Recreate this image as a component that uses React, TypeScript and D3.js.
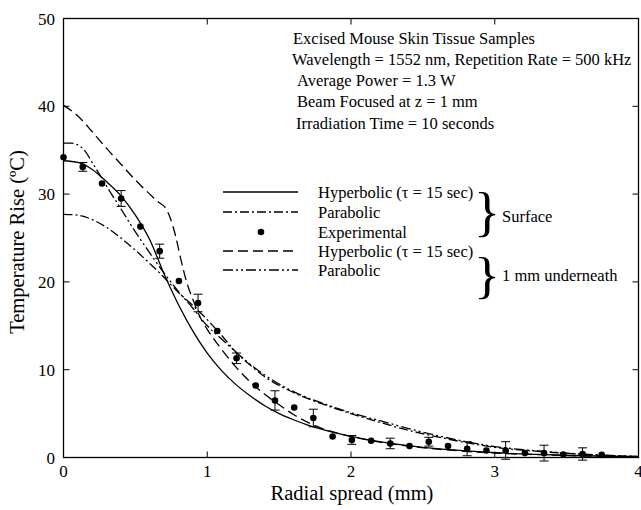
import React from "react";
import * as d3 from "d3";

// ---------- data ----------
const xTicks = [0, 1, 2, 3, 4];
const yTicks = [0, 10, 20, 30, 40, 50];

// Experimental points (surface)
const expR = [0, 0.134, 0.268, 0.401, 0.535, 0.669, 0.803, 0.936, 1.07, 1.204, 1.337, 1.471, 1.605, 1.738, 1.872, 2.006, 2.14, 2.273, 2.407, 2.541, 2.675, 2.808, 2.942, 3.076, 3.21, 3.343, 3.477, 3.611, 3.744];
const expT = [34.2, 33.1, 31.2, 29.5, 26.3, 23.5, 20.1, 17.6, 14.4, 11.3, 8.2, 6.5, 5.7, 4.5, 2.4, 2.0, 1.9, 1.6, 1.3, 1.8, 1.3, 1.0, 0.8, 0.8, 0.5, 0.5, 0.35, 0.4, 0.3];
const expErr = [0, 0.5, 0, 0.9, 0, 0.8, 0, 1.0, 0, 0.6, 0, 1.1, 0, 1.0, 0, 0.5, 0, 0.6, 0, 0.5, 0, 0.8, 0, 1.0, 0, 0.9, 0, 0.7, 0];

// Surface – hyperbolic (solid)
const hypSurfR = [0, 0.1, 0.2, 0.3, 0.4, 0.5, 0.6, 0.7, 0.8, 0.9, 1.0, 1.1, 1.2, 1.3, 1.4, 1.5, 1.6, 1.7, 1.8, 2.0, 2.2, 2.4, 2.6, 2.8, 3.0, 3.3, 3.6, 4.0];
const hypSurfT = [33.8, 33.6, 32.8, 31.4, 29.8, 27.6, 24.8, 20.9, 17.4, 14.4, 11.9, 9.9, 8.3, 7.0, 5.9, 5.0, 4.3, 3.7, 3.2, 2.4, 1.8, 1.35, 1.0, 0.75, 0.55, 0.35, 0.2, 0.1];

// Surface – parabolic (dash-dot)
const parSurfR = [0, 0.1, 0.2, 0.3, 0.4, 0.5, 0.6, 0.7, 0.8, 0.9, 1.0, 1.1, 1.2, 1.3, 1.4, 1.6, 1.8, 2.0, 2.2, 2.4, 2.6, 2.8, 3.0, 3.3, 3.6, 4.0];
const parSurfT = [27.7, 27.6, 27.1, 26.2, 25.0, 23.6, 22.1, 20.5, 18.8, 17.3, 15.7, 13.9, 12.0, 10.5, 9.2, 7.4, 6.1, 5.0, 4.0, 3.1, 2.35, 1.7, 1.15, 0.7, 0.38, 0.1];

// 1 mm underneath – hyperbolic (dashed)
const hypSubR = [0, 0.1, 0.2, 0.3, 0.4, 0.5, 0.6, 0.66, 0.71, 0.74, 0.78, 0.82, 0.86, 0.9, 0.95, 1.0, 1.1, 1.2, 1.3, 1.4, 1.5, 1.6, 1.7, 1.8, 2.0, 2.2, 2.4, 2.6, 2.8, 3.0, 3.3, 3.6, 4.0];
const hypSubT = [40.1, 38.9, 37.1, 35.2, 33.4, 31.6, 30.0, 29.1, 28.4, 27.4, 25.2, 22.3, 19.8, 18.0, 16.0, 14.6, 12.3, 10.3, 8.6, 7.2, 6.0, 4.9, 4.0, 3.3, 2.4, 1.75, 1.3, 0.95, 0.7, 0.5, 0.32, 0.18, 0.06];

// 1 mm underneath – parabolic (dash-dot-dot)
const parSubR = [0, 0.05, 0.1, 0.15, 0.2, 0.3, 0.4, 0.5, 0.6, 0.7, 0.8, 0.9, 1.0, 1.1, 1.2, 1.3, 1.4, 1.6, 1.8, 2.0, 2.2, 2.4, 2.6, 2.8, 3.0, 3.3, 3.6, 4.0];
const parSubT = [35.8, 35.8, 35.6, 34.9, 33.6, 30.9, 28.3, 25.7, 23.3, 21.0, 18.9, 17.0, 15.0, 13.5, 12.0, 10.6, 9.4, 7.5, 6.2, 5.1, 4.2, 3.3, 2.5, 1.8, 1.25, 0.75, 0.4, 0.12];

const legendLabels = ["Hyperbolic (τ = 15 sec)", "Parabolic", "Experimental", "Hyperbolic (τ = 15 sec)", "Parabolic"];
const annotationLines = [
  "Excised Mouse Skin Tissue Samples",
  "Wavelength = 1552 nm, Repetition Rate = 500 kHz",
  "Average Power = 1.3 W",
  "Beam Focused at z = 1 mm",
  "Irradiation Time = 10 seconds",
];

// ---------- styles ----------
const FONT = "'Liberation Serif', 'Times New Roman', Times, 'DejaVu Serif', serif";
const DASH_DOT = "9,3,2,3";
const DASH = "10,5";
const DASH_DOT_DOT = "10,3,2,3,2,3";

const T = (props: any) => <text {...props} style={{ fontFamily: FONT }} fill="#000" />;

export default function App() {
  const W = 641, H = 510;
  const x = d3.scaleLinear().domain([0, 4]).range([63.5, 638.5]);
  const y = d3.scaleLinear().domain([0, 50]).range([457.5, 18.5]);

  const mk = (rs: number[], ts: number[]) =>
    d3.line<number>().x((_, i) => x(rs[i])).y((_, i) => y(ts[i])).curve(d3.curveMonotoneX)(rs) || "";

  const curves = [
    { d: mk(hypSurfR, hypSurfT), dash: "none" },
    { d: mk(parSurfR, parSurfT), dash: DASH_DOT },
    { d: mk(hypSubR, hypSubT), dash: DASH },
    { d: mk(parSubR, parSubT), dash: DASH_DOT_DOT },
  ];

  const legendRows = [192, 212, 232, 251, 270];
  const legendDash = ["none", DASH_DOT, "dot", DASH, DASH_DOT_DOT];
  const annY = [44, 65, 86, 107, 129];
  const annX = [293, 292, 297, 297, 296];
  const TXT = 16.5;

  return (
    <svg width={W} height={H} style={{ position: "absolute", left: 0, top: 0, display: "block", background: "#fff", fontFamily: FONT }}>
      <rect x={0} y={0} width={W} height={H} fill="#fff" />
      {/* curves */}
      {curves.map((c, i) => (
        <path key={i} d={c.d} fill="none" stroke="#000" strokeWidth={1.3} strokeDasharray={c.dash === "none" ? undefined : c.dash} />
      ))}
      {/* error bars */}
      {expR.map((r, i) =>
        expErr[i] > 0 ? (
          <g key={"e" + i} stroke="#000" strokeWidth={1}>
            <line x1={x(r)} x2={x(r)} y1={y(expT[i] + expErr[i])} y2={y(expT[i] - expErr[i])} />
            <line x1={x(r) - 4.5} x2={x(r) + 4.5} y1={y(expT[i] + expErr[i])} y2={y(expT[i] + expErr[i])} />
            <line x1={x(r) - 4.5} x2={x(r) + 4.5} y1={y(expT[i] - expErr[i])} y2={y(expT[i] - expErr[i])} />
          </g>
        ) : null
      )}
      {/* points */}
      {expR.map((r, i) => (
        <circle key={"p" + i} cx={x(r)} cy={y(expT[i])} r={3.3} fill="#000" />
      ))}
      {/* frame */}
      <rect x={x(0)} y={y(50)} width={x(4) - x(0)} height={y(0) - y(50)} fill="none" stroke="#000" strokeWidth={1.3} />
      {/* ticks */}
      {xTicks.slice(1, -1).map((t) => (
        <g key={"xt" + t} stroke="#000" strokeWidth={1}>
          <line x1={x(t)} x2={x(t)} y1={y(0)} y2={y(0) - 6} />
          <line x1={x(t)} x2={x(t)} y1={y(50)} y2={y(50) + 6} />
        </g>
      ))}
      {yTicks.slice(1, -1).map((t) => (
        <g key={"yt" + t} stroke="#000" strokeWidth={1}>
          <line x1={x(0)} x2={x(0) + 6} y1={y(t)} y2={y(t)} />
          <line x1={x(4)} x2={x(4) - 6} y1={y(t)} y2={y(t)} />
        </g>
      ))}
      {/* tick labels */}
      {xTicks.map((t) => (
        <T key={"xl" + t} x={x(t)} y={477} fontSize={17} textAnchor="middle">{t}</T>
      ))}
      {yTicks.map((t) => (
        <T key={"yl" + t} x={55} y={y(t) + 6} fontSize={17} textAnchor="end">{t}</T>
      ))}
      {/* axis titles */}
      <T x={352} y={500} fontSize={20.5} textAnchor="middle">Radial spread (mm)</T>
      <T transform="translate(24,242) rotate(-90)" fontSize={20.5} textAnchor="middle">Temperature Rise (ºC)</T>
      {/* annotation */}
      {annotationLines.map((s, i) => (
        <T key={"a" + i} x={annX[i]} y={annY[i]} fontSize={TXT}>{s}</T>
      ))}
      {/* legend */}
      {legendLabels.map((s, i) => (
        <g key={"l" + i}>
          {legendDash[i] === "dot" ? (
            <circle cx={261} cy={legendRows[i]} r={3.3} fill="#000" />
          ) : (
            <line x1={223} x2={298} y1={legendRows[i]} y2={legendRows[i]} stroke="#000" strokeWidth={1.3}
              strokeDasharray={legendDash[i] === "none" ? undefined : legendDash[i]} />
          )}
          <T x={318} y={legendRows[i] + 5.5} fontSize={TXT}>{s}</T>
        </g>
      ))}
      <T x={474} y={230} fontSize={64} transform="translate(474,230) scale(0.85,0.85) translate(-474,-230)">{"}"}</T>
      <T x={502} y={222} fontSize={TXT}>Surface</T>
      <T x={474} y={292} fontSize={64} transform="translate(474,292) scale(0.85,0.8) translate(-474,-292)">{"}"}</T>
      <T x={502} y={281} fontSize={TXT}>1 mm underneath</T>
    </svg>
  );
}
